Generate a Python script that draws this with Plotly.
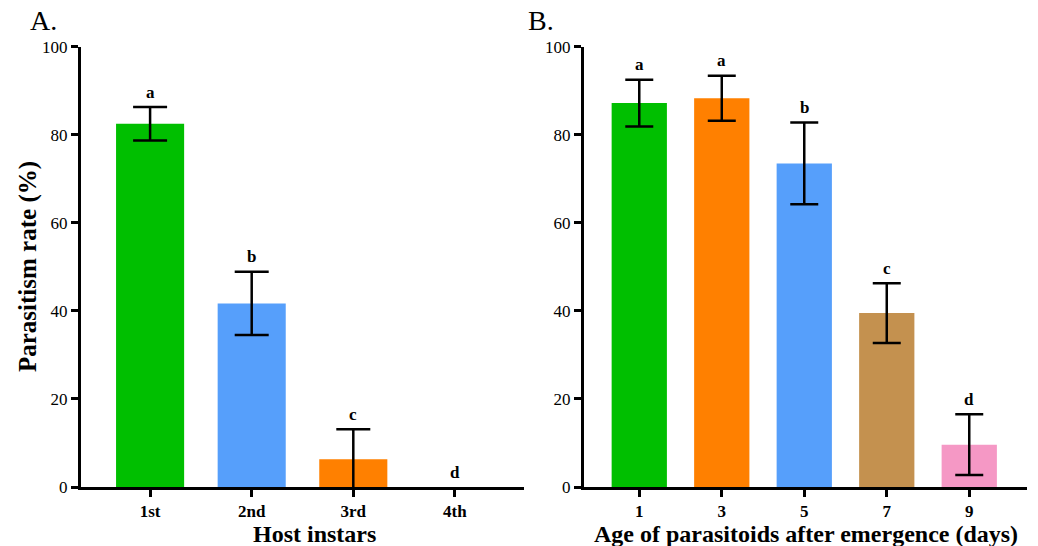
import plotly.graph_objects as go

# Panel A data
instars = ["1st", "2nd", "3rd", "4th"]
rate_a = [82.5, 41.7, 6.3, 0.0]
err_a = [3.8, 7.2, 6.8, None]  # no error bar for 4th instar
letters_a = ["a", "b", "c", "d"]
colors_a = ["#00BF00", "#569FFB", "#FF8000", "#FFFFFF"]

# Panel B data
ages = ["1", "3", "5", "7", "9"]
rate_b = [87.2, 88.3, 73.5, 39.5, 9.6]
err_b = [5.3, 5.1, 9.3, 6.8, 6.9]
letters_b = ["a", "a", "b", "c", "d"]
colors_b = ["#00BF00", "#FF8000", "#569FFB", "#C4914F", "#F598C5"]

FONT = "Liberation Serif"
W, H = 1038, 546

fig = go.Figure()

fig.add_trace(go.Bar(
    x=instars, y=rate_a, marker=dict(color=colors_a, line=dict(width=0)),
    width=0.67, xaxis="x", yaxis="y", showlegend=False,
))
idx_a = [i for i, e in enumerate(err_a) if e is not None]
fig.add_trace(go.Scatter(
    x=[instars[i] for i in idx_a], y=[rate_a[i] for i in idx_a], mode="markers",
    marker=dict(opacity=0, size=1),
    error_y=dict(type="data", array=[err_a[i] for i in idx_a], color="black", thickness=2.5, width=17),
    xaxis="x", yaxis="y", showlegend=False, hoverinfo="skip",
))
fig.add_trace(go.Bar(
    x=ages, y=rate_b, marker=dict(color=colors_b, line=dict(width=0)),
    width=0.67,
    error_y=dict(type="data", array=err_b, color="black", thickness=2.5, width=14),
    xaxis="x2", yaxis="y2", showlegend=False,
))

ann = []
for i, (v, e, t) in enumerate(zip(rate_a, err_a, letters_a)):
    ann.append(dict(x=i, y=v + (e or 0), xref="x", yref="y", text="<b>%s</b>" % t,
                    xanchor="center", yanchor="middle",
                    showarrow=False, yshift=15, font=dict(family=FONT, size=17, color="black")))
for i, (v, e, t) in enumerate(zip(rate_b, err_b, letters_b)):
    ann.append(dict(x=i, y=v + e, xref="x2", yref="y2", text="<b>%s</b>" % t,
                    xanchor="center", yanchor="middle",
                    showarrow=False, yshift=15, font=dict(family=FONT, size=17, color="black")))

def paper_text(x, y, text, size, angle=0):
    return dict(x=x / W, y=1 - y / H, xref="paper", yref="paper", text=text,
                xanchor="center", yanchor="middle", textangle=angle,
                showarrow=False, font=dict(family=FONT, size=size, color="black"))

ann.append(paper_text(314, 534, "<b>Host instars</b>", 24))
ann.append(paper_text(806, 534, "<b>Age of parasitoids after emergence (days)</b>", 24))
ann.append(paper_text(28, 267, "<b>Parasitism rate (%)</b>", 25, -90))
ann.append(paper_text(43, 21, "A.", 28))
ann.append(paper_text(541, 21, "B.", 28))

ydom = [1 - 487 / H, 1 - 46.7 / H]
axis_common = dict(showline=True, linecolor="black", linewidth=3, ticks="outside",
                   ticklen=7, tickwidth=2.5, tickcolor="black", showgrid=False, zeroline=False,
                   tickfont=dict(family=FONT, size=17, color="black"), automargin=False,
                   tickprefix="<b>", ticksuffix="</b>")

fig.update_layout(
    width=W, height=H,
    margin=dict(l=0, r=0, t=0, b=0),
    plot_bgcolor="white", paper_bgcolor="white",
    xaxis=dict(domain=[81 / W, 524 / W], range=[-0.68, 3.68], type="category", anchor="y",
               categoryorder="array", categoryarray=instars, **axis_common),
    yaxis=dict(domain=ydom, range=[0, 100], tickvals=[0, 20, 40, 60, 80, 100], anchor="x", **axis_common),
    xaxis2=dict(domain=[584 / W, 1027 / W], range=[-0.67, 4.70], type="category", anchor="y2", **axis_common),
    yaxis2=dict(domain=ydom, range=[0, 100], tickvals=[0, 20, 40, 60, 80, 100], anchor="x2", **axis_common),
    annotations=ann,
)

fig.write_html("out.html", config={"displayModeBar": False},
               post_script="document.body.style.margin='0';")
